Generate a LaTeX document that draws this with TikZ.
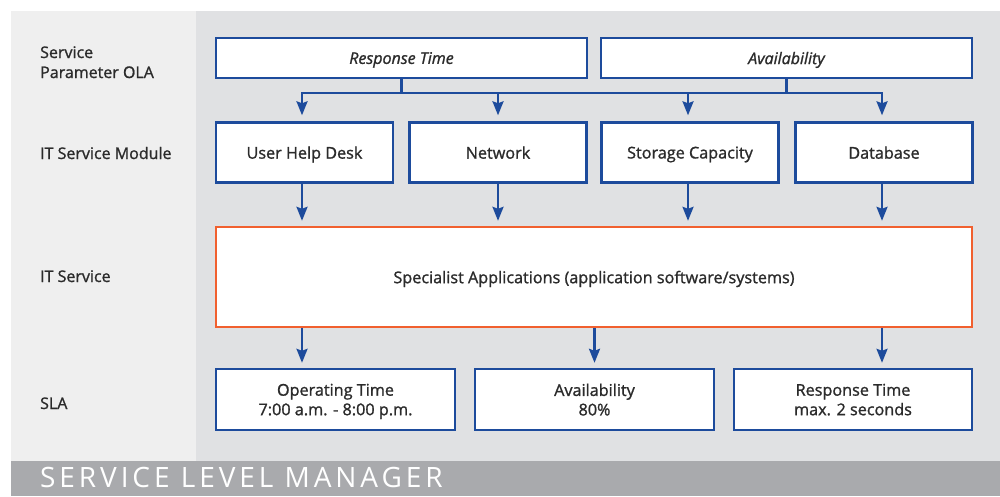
\documentclass[tikz,border=0pt]{standalone}
\usepackage{fontspec}
\setmainfont{Open Sans}[FakeBold=1.2]
\newfontfamily\bandfont[LetterSpace=14]{Open Sans}
\usetikzlibrary{arrows.meta}
\definecolor{panelL}{HTML}{EFEFEF}
\definecolor{panelD}{HTML}{E0E1E3}
\definecolor{bandgray}{HTML}{A9AAAD}
\definecolor{boxblue}{HTML}{1D4B9C}
\definecolor{boxorange}{HTML}{F1602F}
\definecolor{txt}{HTML}{2B2B2B}
\tikzset{
  box/.style={draw=boxblue, line width=2.4pt, fill=white, inner sep=0pt,
    text=txt, font=\fontsize{16.2}{19.5}\selectfont, align=center, text depth=0pt},
  hotbox/.style={box, draw=boxorange},
  rowlabel/.style={anchor=base west, text=txt, inner sep=0pt,
    font=\fontsize{16}{20}\selectfont, align=left},
  link/.style={draw=boxblue, line width=2.4pt},
  arr/.style={link, -{Stealth[length=14pt,width=11pt,inset=2pt]}, shorten >=5pt},
}
\begin{document}
\begin{tikzpicture}[x=1pt,y=-1pt]
\useasboundingbox (0,0) rectangle (1000,496);
% background panels
\fill[panelL] (11,11) rectangle (196,461);
\fill[panelD] (196,11) rectangle (1000,461);
\fill[bandgray] (11,461) rectangle (1000,496);
\node[anchor=base west, inner sep=0pt, text=white, font=\bandfont\fontsize{28}{28}\selectfont]
  (band) at (40,487) {SERVICE LEVEL MANAGER};

% row labels (base of the last line sits at the given point)
\node[rowlabel] (l1) at (40,78) {Service\\Parameter OLA};
\node[rowlabel] (l2) at (40,159) {IT Service Module};
\node[rowlabel] (l3) at (40,282) {IT Service};
\node[rowlabel] (l4) at (40,409) {SLA};

% service parameters
\node[box, minimum width=371pt, minimum height=40pt, font=\fontsize{16}{19.5}\selectfont\itshape]
  (rt) at (401.5,58) {Response Time};
\node[box, minimum width=371pt, minimum height=40pt, font=\fontsize{16}{19.5}\selectfont\itshape]
  (av) at (786.5,58) {Availability};

% service modules
\node[box, minimum width=177pt, minimum height=60pt] (uhd) at (304.5,152.5) {User Help Desk};
\node[box, minimum width=177pt, minimum height=60pt] (net) at (498,152.5) {Network};
\node[box, minimum width=177pt, minimum height=60pt] (sto) at (690,152.5) {Storage Capacity};
\node[box, minimum width=177pt, minimum height=60pt] (db) at (884,152.5) {Database};

% IT service
\node[hotbox, minimum width=756pt, minimum height=100pt] (spec) at (594,277)
  {Specialist Applications (application software/systems)};

% SLA
\node[box, minimum width=239pt, minimum height=61pt] (ot) at (335.5,399.5) {Operating Time\\7:00 a.m. - 8:00 p.m.};
\node[box, minimum width=239pt, minimum height=61pt] (as) at (594.5,399.5) {Availability\\80\%};
\node[box, minimum width=238pt, minimum height=61pt] (rs) at (853,399.5) {Response Time\\max. 2 seconds};

% distribution bus below the parameters
\coordinate (bus) at (0,93);
\coordinate (busL) at (302,93);
\coordinate (busR) at (882,93);
\draw[link] (rt.south) -- (rt.south |- bus);
\draw[link] (av.south) -- (av.south |- bus);
\draw[link, line cap=rect] (busL) -- (busR);
\draw[arr, shorten >=6pt] (busL) -- (busL |- uhd.north);
\draw[arr, shorten >=6pt] (net.north |- bus) -- (net.north);
\draw[arr, shorten >=6pt] ([xshift=-2pt]sto.north |- bus) -- ([xshift=-2pt]sto.north);
\draw[arr, shorten >=6pt] (busR) -- (busR |- db.north);

% modules into the IT service
\draw[arr] ([xshift=-2.5pt]uhd.south) -- ([xshift=-2.5pt]uhd.south |- spec.north);
\draw[arr] (net.south) -- (net.south |- spec.north);
\draw[arr] ([xshift=-2pt]sto.south) -- ([xshift=-2pt]sto.south |- spec.north);
\draw[arr] ([xshift=-2pt]db.south) -- ([xshift=-2pt]db.south |- spec.north);

% IT service into the SLAs
\draw[arr] (spec.south -| busL) -- (busL |- ot.north);
\draw[arr] (spec.south -| as.north) -- (as.north);
\draw[arr] (spec.south -| busR) -- (busR |- rs.north);
\end{tikzpicture}
\end{document}
